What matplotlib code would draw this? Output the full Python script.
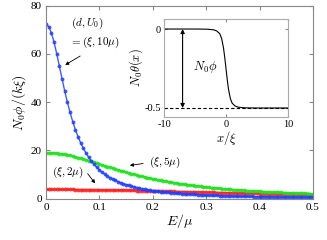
import matplotlib
matplotlib.use('Agg')
import matplotlib.pyplot as plt
import numpy as np

plt.rcParams['font.family'] = ['Liberation Serif', 'DejaVu Serif']
plt.rcParams['mathtext.fontset'] = 'cm'
plt.rcParams['axes.unicode_minus'] = False

# main panel: N0 phi/(k xi) vs E/mu, step 0.005
energy = [i * 0.005 for i in range(101)]

phi_10mu = [72.2, 71.3, 68.74, 64.86, 60.11, 54.94, 49.71, 44.68, 40.01, 35.78,
            31.99, 28.64, 25.69, 23.11, 20.85, 18.86, 17.12, 15.59, 14.23, 13.04,
            11.98, 11.03, 10.19, 9.44, 8.76, 8.15, 7.60, 7.10, 6.65, 6.24,
            5.86, 5.52, 5.21, 4.92, 4.65, 4.40, 4.18, 3.97, 3.77, 3.59,
            3.42, 3.26, 3.12, 2.98, 2.85, 2.73, 2.62, 2.51, 2.41, 2.32,
            2.23, 2.14, 2.06, 1.99, 1.92, 1.85, 1.79, 1.73, 1.67, 1.61,
            1.56, 1.51, 1.46, 1.42, 1.38, 1.33, 1.30, 1.26, 1.22, 1.19,
            1.15, 1.12, 1.09, 1.06, 1.03, 1.01, 0.98, 0.96, 0.93, 0.91,
            0.89, 0.86, 0.84, 0.82, 0.80, 0.79, 0.77, 0.75, 0.73, 0.72,
            0.70, 0.69, 0.67, 0.66, 0.64, 0.63, 0.62, 0.61, 0.59, 0.58, 0.57]

phi_5mu = [19.10, 19.08, 19.04, 18.96, 18.85, 18.72, 18.55, 18.37, 18.15, 17.92,
           17.66, 17.38, 17.09, 16.78, 16.47, 16.14, 15.80, 15.45, 15.10, 14.75,
           14.40, 14.04, 13.69, 13.34, 12.99, 12.65, 12.31, 11.97, 11.65, 11.32,
           11.01, 10.70, 10.40, 10.11, 9.83, 9.55, 9.28, 9.02, 8.77, 8.52,
           8.28, 8.05, 7.83, 7.61, 7.40, 7.20, 7.00, 6.81, 6.63, 6.45,
           6.28, 6.12, 5.96, 5.80, 5.65, 5.51, 5.37, 5.23, 5.10, 4.97,
           4.85, 4.73, 4.62, 4.50, 4.40, 4.29, 4.19, 4.09, 4.00, 3.91,
           3.82, 3.73, 3.65, 3.57, 3.49, 3.42, 3.34, 3.27, 3.20, 3.13,
           3.07, 3.01, 2.94, 2.88, 2.83, 2.77, 2.72, 2.66, 2.61, 2.56,
           2.51, 2.46, 2.41, 2.37, 2.32, 2.28, 2.24, 2.20, 2.16, 2.12, 2.08]

phi_2mu = [3.90, 3.90, 3.90, 3.90, 3.89, 3.89, 3.88, 3.88, 3.87, 3.86,
           3.85, 3.84, 3.83, 3.82, 3.81, 3.79, 3.78, 3.77, 3.75, 3.73,
           3.72, 3.70, 3.68, 3.66, 3.64, 3.62, 3.60, 3.58, 3.56, 3.53,
           3.51, 3.49, 3.46, 3.44, 3.41, 3.39, 3.36, 3.34, 3.31, 3.28,
           3.26, 3.23, 3.20, 3.18, 3.15, 3.12, 3.09, 3.06, 3.04, 3.01,
           2.98, 2.95, 2.92, 2.90, 2.87, 2.84, 2.81, 2.78, 2.76, 2.73,
           2.70, 2.67, 2.65, 2.62, 2.59, 2.56, 2.54, 2.51, 2.48, 2.46,
           2.43, 2.40, 2.38, 2.35, 2.33, 2.30, 2.28, 2.25, 2.23, 2.20,
           2.18, 2.15, 2.13, 2.11, 2.08, 2.06, 2.04, 2.02, 1.99, 1.97,
           1.95, 1.93, 1.91, 1.89, 1.87, 1.84, 1.82, 1.80, 1.78, 1.76, 1.75]

# inset: N0 theta(x)
x_inset = [-10, -5, -3, -2, -1.5, -1, -0.7, -0.4, -0.2, 0, 0.2, 0.4, 0.7, 1, 1.5, 2, 3, 5, 10]
theta = [0, 0, -0.001, -0.005, -0.012, -0.03, -0.06, -0.12, -0.18, -0.25,
         -0.32, -0.38, -0.44, -0.47, -0.488, -0.495, -0.499, -0.5, -0.5]

spine_col = '#888888'

fig = plt.figure(figsize=(3.27, 2.40), dpi=100)
ax = fig.add_axes([0.1407, 0.1717, 0.8163, 0.8053])

ax.plot(energy, phi_2mu, color='#ff2020', lw=1.2, marker='o', ms=2.8, mew=0, alpha=0.85)
ax.plot(energy, phi_5mu, color='#20e020', lw=1.2, marker='o', ms=2.8, mew=0, alpha=0.85)
ax.plot(energy, phi_10mu, color='#2040ff', lw=1.0, marker='o', ms=2.8, mew=0, alpha=0.85)

ax.set_xlim(0, 0.5)
ax.set_ylim(0, 80)
ax.set_xticks([0, 0.1, 0.2, 0.3, 0.4, 0.5])
ax.set_xticklabels(['0', '0.1', '0.2', '0.3', '0.4', '0.5'])
ax.set_yticks([0, 20, 40, 60, 80])
ax.tick_params(direction='in', top=True, right=True, labelsize=8, length=3,
               color=spine_col, pad=3)
for s in ax.spines.values():
    s.set_color(spine_col)
ax.set_xlabel(r'$E/\mu$', fontsize=10, labelpad=0)
ax.set_ylabel(r'$N_0\phi/(k\xi)$', fontsize=10, labelpad=2)

ax.text(0.078, 72.5, r'$(d,U_0)$', fontsize=8, ha='center', va='center')
ax.text(0.092, 64.8, r'$=(\xi,10\mu)$', fontsize=8, ha='center', va='center')
ax.annotate('', xy=(0.036, 55.4), xytext=(0.064, 59.1),
            arrowprops=dict(arrowstyle='-|>', color='black', lw=0.6,
                            mutation_scale=5, shrinkA=0, shrinkB=0))

ax.text(0.223, 15.0, r'$(\xi,5\mu)$', fontsize=8, ha='center', va='center')
ax.annotate('', xy=(0.157, 13.8), xytext=(0.182, 14.6),
            arrowprops=dict(arrowstyle='-|>', color='black', lw=0.6,
                            mutation_scale=5, shrinkA=0, shrinkB=0))

ax.text(0.040, 11.0, r'$(\xi,2\mu)$', fontsize=8, ha='center', va='center')
ax.annotate('', xy=(0.092, 6.4), xytext=(0.078, 10.4),
            arrowprops=dict(arrowstyle='-|>', color='black', lw=0.6,
                            mutation_scale=5, shrinkA=0, shrinkB=0))

# inset
ins = fig.add_axes([0.5015, 0.5125, 0.3792, 0.408])
ins.plot(x_inset, theta, color='black', lw=0.8)
ins.plot([-10, 10], [-0.5, -0.5], color='black', lw=0.8, ls='--', dashes=(3, 2))
ins.annotate('', xy=(-7, -0.5), xytext=(-7, 0),
             arrowprops=dict(arrowstyle='<|-|>', color='black', lw=0.8,
                             mutation_scale=6, shrinkA=0, shrinkB=0))
ins.text(-3.3, -0.24, r'$N_0\phi$', fontsize=9, ha='center', va='center')
ins.set_xlim(-10, 10)
ins.set_ylim(-0.557, 0.063)
ins.set_xticks([-10, 0, 10])
ins.set_yticks([-0.5, 0])
ins.set_yticklabels(['-0.5', '0'])
ins.tick_params(direction='in', labelsize=7.5, length=2, color=spine_col, pad=2,
                top=True, right=True)
for s in ins.spines.values():
    s.set_color('#aaaaaa')
ins.set_xlabel(r'$x/\xi$', fontsize=9, labelpad=0)
ins.set_ylabel(r'$N_0\theta(x)$', fontsize=9, labelpad=0)

fig.savefig('out.png', dpi=100)
